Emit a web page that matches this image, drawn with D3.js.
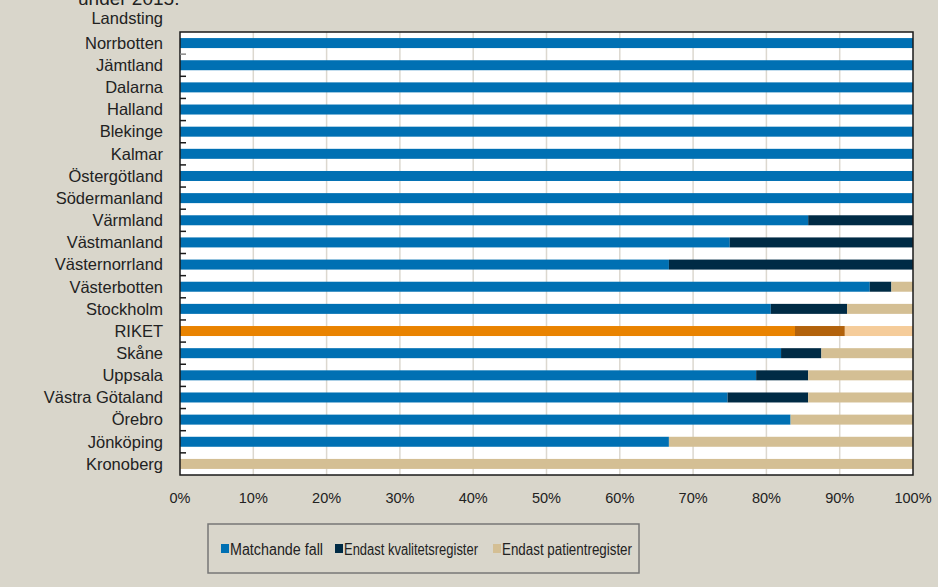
<!DOCTYPE html>
<html>
<head>
<meta charset="utf-8">
<script src="https://cdn.jsdelivr.net/npm/d3@7"></script>
<style>
  body { margin: 0; background: #d9d6cb; }
  svg { display: block; font-family: 'Liberation Sans', sans-serif; }
</style>
</head>
<body>
<svg></svg>
<script>
// Data
const regions = ['Norrbotten', 'Jämtland', 'Dalarna', 'Halland', 'Blekinge', 'Kalmar', 'Östergötland',
  'Södermanland', 'Värmland', 'Västmanland', 'Västernorrland', 'Västerbotten', 'Stockholm', 'RIKET',
  'Skåne', 'Uppsala', 'Västra Götaland', 'Örebro', 'Jönköping', 'Kronoberg']
const matchande = [100, 100, 100, 100, 100, 100, 100, 100, 85.7, 75.0, 66.7, 94.1, 80.6, 83.9,
  82.0, 78.6, 74.7, 83.3, 66.7, 0]
const kvalitet = [0, 0, 0, 0, 0, 0, 0, 0, 14.3, 25.0, 33.3, 2.95, 10.4, 6.8,
  5.5, 7.1, 11.0, 0, 0, 0]
const patient = [0, 0, 0, 0, 0, 0, 0, 0, 0, 0, 0, 2.95, 9.0, 9.3,
  12.5, 14.3, 14.3, 16.7, 33.3, 100]
const seriesNames = ['Matchande fall', 'Endast kvalitetsregister', 'Endast patientregister']
const xTicks = [0, 10, 20, 30, 40, 50, 60, 70, 80, 90, 100]

const colors = ['#0070b3', '#002b45', '#d4bf94']
const riketColors = ['#e98300', '#b2620c', '#f5cc9a']

const width = 938
const height = 587
const margin = {left: 180, right: 25, top: 32, bottom: 112}

const svg = d3.select('svg').attr('width', width).attr('height', height)

const xScale = d3.scaleLinear().domain([0, 100]).range([margin.left, width - margin.right])
const yScale = d3.scaleBand().domain(regions).range([margin.top, height - margin.bottom])

// plot area
svg.append('rect')
  .attr('x', xScale(0)).attr('y', yScale.range()[0])
  .attr('width', xScale(100) - xScale(0))
  .attr('height', yScale.range()[1] - yScale.range()[0])
  .attr('fill', '#fff')

// gridlines
svg.append('g')
  .selectAll('line')
  .data(xTicks.slice(1, -1))
  .enter()
  .append('line')
  .attr('x1', d => xScale(d)).attr('x2', d => xScale(d))
  .attr('y1', yScale.range()[0]).attr('y2', yScale.range()[1])
  .attr('stroke', '#dcd8cf').attr('stroke-width', 1.5)

// stacked bars
const rows = regions.map((r, i) => ({region: r, values: [matchande[i], kvalitet[i], patient[i]]}))
const barH = 10
rows.forEach(row => {
  let start = 0
  const cols = row.region === 'RIKET' ? riketColors : colors
  row.values.forEach((v, j) => {
    if (v > 0) {
      svg.append('rect')
        .attr('x', xScale(start))
        .attr('y', yScale(row.region) + yScale.bandwidth() / 2 - barH / 2)
        .attr('width', xScale(start + v) - xScale(start))
        .attr('height', barH)
        .attr('fill', cols[j])
    }
    start += v
  })
})

// frame
svg.append('rect')
  .attr('x', xScale(0)).attr('y', yScale.range()[0])
  .attr('width', xScale(100) - xScale(0))
  .attr('height', yScale.range()[1] - yScale.range()[0])
  .attr('fill', 'none').attr('stroke', '#1a1a1a').attr('stroke-width', 1.5)

// tick marks between categories
svg.append('g')
  .selectAll('line')
  .data(regions.slice(1))
  .enter()
  .append('line')
  .attr('x1', xScale(0)).attr('x2', xScale(0) + 6)
  .attr('y1', d => yScale(d)).attr('y2', d => yScale(d))
  .attr('stroke', (d, i) => i === 0 ? '#888' : '#1a1a1a').attr('stroke-width', 1.5)

// category labels
svg.append('g')
  .selectAll('text')
  .data(regions)
  .enter()
  .append('text')
  .attr('x', xScale(0) - 17)
  .attr('y', d => yScale(d) + yScale.bandwidth() / 2)
  .attr('dy', '0.35em')
  .attr('text-anchor', 'end')
  .attr('font-size', 16.5)
  .attr('fill', '#222')
  .text(d => d)

svg.append('text')
  .attr('x', xScale(0) - 17).attr('y', 18).attr('dy', '0.35em')
  .attr('text-anchor', 'end').attr('font-size', 16.5).attr('fill', '#222')
  .text('Landsting')

svg.append('text')
  .attr('x', 78).attr('y', 5)
  .attr('font-size', 19).attr('fill', '#222')
  .text('under 2015.')

// x axis labels
svg.append('g')
  .selectAll('text')
  .data(xTicks)
  .enter()
  .append('text')
  .attr('x', d => xScale(d))
  .attr('y', 498).attr('dy', '0.35em')
  .attr('text-anchor', 'middle')
  .attr('font-size', 14.5).attr('fill', '#222')
  .text(d => d + '%')

// legend
const legend = svg.append('g')
legend.append('rect')
  .attr('x', 208).attr('y', 524).attr('width', 431).attr('height', 49)
  .attr('fill', 'none').attr('stroke', '#777').attr('stroke-width', 1.5)
const legendX = [221, 335, 493]
const legendW = [93, 134, 130]
seriesNames.forEach((name, i) => {
  legend.append('rect')
    .attr('x', legendX[i]).attr('y', 544).attr('width', 8).attr('height', 9)
    .attr('fill', colors[i])
  legend.append('text')
    .attr('x', legendX[i] + 9).attr('y', 549).attr('dy', '0.35em')
    .attr('font-size', 16).attr('fill', '#222')
    .attr('textLength', legendW[i]).attr('lengthAdjust', 'spacingAndGlyphs')
    .text(name)
})
</script>
</body>
</html>
